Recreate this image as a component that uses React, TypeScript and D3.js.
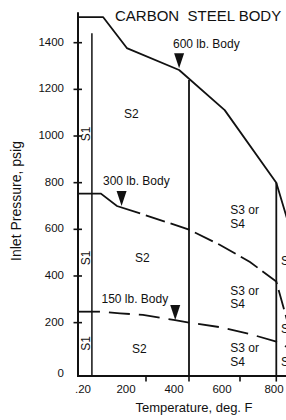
import React from 'react';
import * as d3 from 'd3';

const W = 286;
const H = 420;
const FONT = '"Liberation Sans", Arial, Helvetica, sans-serif';

// Axis ticks
const xTickValues = [-20, 200, 400, 600, 800];
const xTickLabels = ['.20', '200', '400', '600', '800'];
const yTickValues = [0, 200, 400, 600, 800, 1000, 1200, 1400];
const yTickLabels = ['0', '200', '400', '600', '800', '1000', '1200', '1400'];

// Pressure-temperature rating curves (deg F, psig)
const body600Temp = [-20, 61, 138, 354, 540, 800, 870];
const body600Psig = [1510, 1510, 1377, 1283, 1111, 800, 618];

const body300Temp = [-20, 54, 106, 181, 400, 522, 655, 800, 870];
const body300Psig = [753, 753, 700, 668, 599, 533, 460, 376, 181];

const body150Temp = [-20, 51, 116, 190, 335, 400, 525, 655, 800, 870];
const body150Psig = [247, 247, 240, 233, 211, 200, 180, 151, 119, 91];

// Zone boundaries
const s1Temp = 25;
const s1TopPsig = 1440;
const zoneTemps = [400, 800];

// Arrow markers for body class labels
const arrowTemp = [354, 121, 336];
const arrowPsig = [1290, 700, 211];

export default function App() {
  const x = d3.scaleLinear().domain(xTickValues).range([78, 146, 189, 240, 276.3]);
  const xLab = d3.scaleLinear().domain(xTickValues).range([83, 126, 174, 222, 274]);
  const y = d3.scaleLinear().domain([0, 1400]).range([369.3, 42.7]);
  const yBottom = y(-29);
  const yTop = y(1531);
  const xRight = x(870);

  const line = d3
    .line<[number, number]>()
    .x((d) => x(d[0]))
    .y((d) => y(d[1]));

  const zip = (a: number[], b: number[]) => a.map((v, i) => [v, b[i]] as [number, number]);
  const c600 = zip(body600Temp, body600Psig);
  const c300 = zip(body300Temp, body300Psig);
  const c150 = zip(body150Temp, body150Psig);

  const p600 = d3.scaleLinear().domain(body600Temp).range(body600Psig);

  const split = (pts: [number, number][], n: number) => [pts.slice(0, n + 1), pts.slice(n)];
  const [c300solid, c300dash] = split(c300, 3);
  const [c150solid, c150dash] = split(c150, 1);

  const stroke = '#111';

  return (
    <div style={{ position: 'absolute', left: 0, top: 0, width: W, height: H, background: '#fff' }}>
      <svg width={W} height={H} style={{ display: 'block' }} fontFamily={FONT}>
        <rect x={0} y={0} width={W} height={H} fill="#fff" />
        {/* Title */}
        <text x={115} y={20.5} fontSize={15} fill={stroke} style={{ whiteSpace: 'pre' }}>
          {'CARBON  STEEL BODY'}
        </text>

        {/* Axes */}
        <line x1={x(-20)} x2={x(-20)} y1={yTop} y2={yBottom} stroke={stroke} strokeWidth={2} />
        <line x1={x(-20) - 1} x2={xRight} y1={yBottom} y2={yBottom} stroke={stroke} strokeWidth={2} />
        {yTickValues.filter((v) => v > 0).map((v) => (
          <line key={'yt' + v} x1={x(-20) - 4.5} x2={x(-20) + 4} y1={y(v)} y2={y(v)} stroke={stroke} strokeWidth={1.6} />
        ))}
        {yTickValues.map((v, i) => (
          <text
            key={'yl' + v}
            x={64}
            y={y(v) + (v === 0 ? 7.5 : 3)}
            fontSize={11.5}
            textAnchor="end"
            fill={stroke}
          >
            {yTickLabels[i]}
          </text>
        ))}
        {xTickValues.filter((v) => v > -20).map((v) => (
          <line key={'xt' + v} x1={x(v)} x2={x(v)} y1={yBottom} y2={yBottom + 5.5} stroke={stroke} strokeWidth={1.6} />
        ))}
        {xTickValues.map((v, i) => (
          <text key={'xl' + v} x={xLab(v)} y={392.5} fontSize={11.5} textAnchor="middle" fill={stroke}>
            {xTickLabels[i]}
          </text>
        ))}

        {/* Axis titles */}
        <text x={194} y={411.5} fontSize={13} textAnchor="middle" fill={stroke}>
          Temperature, deg. F
        </text>
        <text transform="translate(20.8,201) rotate(-90)" fontSize={14} textAnchor="middle" fill={stroke}>
          Inlet Pressure, psig
        </text>

        {/* Zone boundary lines */}
        <line x1={x(s1Temp)} x2={x(s1Temp)} y1={y(s1TopPsig)} y2={yBottom} stroke={stroke} strokeWidth={1.5} />
        {zoneTemps.map((t) => (
          <line key={'z' + t} x1={x(t)} x2={x(t)} y1={y(p600(t))} y2={yBottom} stroke={stroke} strokeWidth={1.8} />
        ))}

        {/* Rating curves */}
        <path d={line(c600) || ''} fill="none" stroke={stroke} strokeWidth={1.8} strokeLinejoin="round" />
        <path d={line(c300solid) || ''} fill="none" stroke={stroke} strokeWidth={1.8} />
        <path
          d={line(c300dash) || ''}
          fill="none"
          stroke={stroke}
          strokeWidth={1.8}
          strokeDasharray="20,6"
          strokeDashoffset={20}
        />
        <path d={line(c150solid) || ''} fill="none" stroke={stroke} strokeWidth={1.8} />
        <path
          d={line(c150dash) || ''}
          fill="none"
          stroke={stroke}
          strokeWidth={1.8}
          strokeDasharray="21,9"
          strokeDashoffset={21}
        />

        {/* Arrows */}
        {arrowTemp.map((t, i) => {
          const tx = x(t);
          const ty = y(arrowPsig[i]);
          return (
            <path
              key={'a' + i}
              d={`M${tx - 5},${ty - 15} L${tx + 5},${ty - 15} L${tx},${ty} Z`}
              fill={stroke}
            />
          );
        })}

        {/* Body labels */}
        <text x={173} y={47.5} fontSize={12} fill={stroke}>600 lb. Body</text>
        <text x={103} y={185} fontSize={12} fill={stroke}>300 lb. Body</text>
        <text x={101.5} y={303} fontSize={12} fill={stroke}>150 lb. Body</text>

        {/* Zone labels */}
        {[134, 258, 343.5].map((cy, i) => (
          <text
            key={'s1' + i}
            transform={`translate(85.5,${cy}) rotate(-90)`}
            fontSize={12}
            textAnchor="middle"
            dy="0.35em"
            fill={stroke}
          >
            S1
          </text>
        ))}
        <text x={124} y={118.3} fontSize={12} fill={stroke}>S2</text>
        <text x={135} y={262} fontSize={12} fill={stroke}>S2</text>
        <text x={132} y={353} fontSize={12} fill={stroke}>S2</text>

        {[[214, 227.8], [294.5, 308.3], [352, 365.8]].map((b, i) => (
          <g key={'s34' + i}>
            <text x={230.3} y={b[0]} fontSize={12} fill={stroke}>S3 or</text>
            <text x={230.3} y={b[1]} fontSize={12} fill={stroke}>S4</text>
          </g>
        ))}
        {[265, 333, 366].map((b, i) => (
          <text key={'s4r' + i} x={281} y={b} fontSize={12} fill={stroke}>S4</text>
        ))}
      </svg>
    </div>
  );
}
